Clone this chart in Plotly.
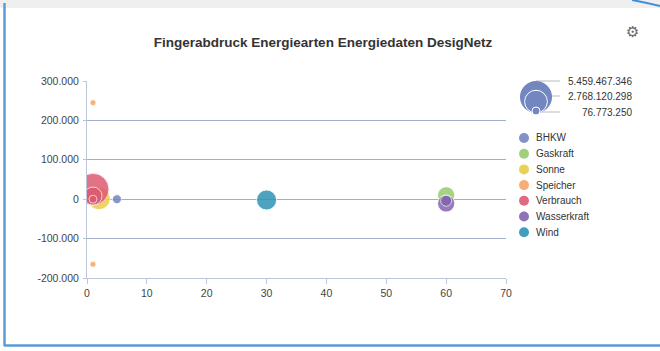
import plotly.graph_objects as go

W, H = 660, 351

# ---------------- data ----------------
CATEGORIES = ["BHKW", "Gaskraft", "Sonne", "Speicher", "Verbrauch", "Wasserkraft", "Wind"]
COLORS = ["#7286c0", "#98cb6c", "#e9cd45", "#f7a466", "#dd5a72", "#8364ae", "#2e93b6"]

BHKW_X = [5];            BHKW_Y = [0];               BHKW_Z = [0.43e9]
GAS_X = [60];            GAS_Y = [10000];            GAS_Z = [1.55e9]
SONNE_X = [2];           SONNE_Y = [2000];           SONNE_Z = [2.70e9]
SPEICHER_X = [1, 1];     SPEICHER_Y = [245000, -165000]; SPEICHER_Z = [0.0768e9, 0.0768e9]
VERB_X = [1, 1, 1];      VERB_Y = [25000, 8000, 0];  VERB_Z = [5.459467346e9, 1.73e9, 0.34e9]
WASSER_X = [60, 60];     WASSER_Y = [-11000, -4000]; WASSER_Z = [1.55e9, 0.65e9]
WIND_X = [30];           WIND_Y = [-2000];           WIND_Z = [2.13e9]

SERIES_X = [BHKW_X, GAS_X, SONNE_X, SPEICHER_X, VERB_X, WASSER_X, WIND_X]
SERIES_Y = [BHKW_Y, GAS_Y, SONNE_Y, SPEICHER_Y, VERB_Y, WASSER_Y, WIND_Y]
SERIES_Z = [BHKW_Z, GAS_Z, SONNE_Z, SPEICHER_Z, VERB_Z, WASSER_Z, WIND_Z]

Y_TICKS = [-200000, -100000, 0, 100000, 200000, 300000]
Y_TICK_LABELS = ["-200.000", "-100.000", "0", "100.000", "200.000", "300.000"]
X_TICKS = [0, 10, 20, 30, 40, 50, 60, 70]

SIZE_LEGEND_VALUES = [5459467346, 2768120298, 76773250]
SIZE_LEGEND_LABELS = ["5.459.467.346", "2.768.120.298", "76.773.250"]

TITLE = "Fingerabdruck Energiearten Energiedaten DesigNetz"

# ---------------- helpers ----------------
def px(x):
    return x / W

def py(y):
    return 1 - y / H

MAX_D = 32.0
SIZEREF = 2 * max(SIZE_LEGEND_VALUES) / (MAX_D ** 2)
FONT = "Liberation Sans, Arial, sans-serif"

fig = go.Figure()

for name, color, xs, ys, zs in zip(CATEGORIES, COLORS, SERIES_X, SERIES_Y, SERIES_Z):
    fig.add_trace(go.Scatter(
        x=xs, y=ys, mode="markers", name=name, showlegend=False,
        marker=dict(size=zs, sizemode="area", sizeref=SIZEREF, sizemin=3,
                    color=color, opacity=0.85,
                    line=dict(color="rgba(255,255,255,0.8)", width=1)),
        hovertemplate=name + ": %{x}, %{y}<extra></extra>",
    ))

# ---------------- size legend (own hidden axes in pixel units) ----------------
bottom_px = 113
cx_px = 536
diam = [(2 * v / SIZEREF) ** 0.5 for v in SIZE_LEGEND_VALUES]
centers = [bottom_px - max(d, 4) / 2 for d in diam]
fig.add_trace(go.Scatter(
    x=[cx_px] * len(diam), y=centers, mode="markers", xaxis="x2", yaxis="y2",
    showlegend=False, hoverinfo="skip",
    marker=dict(size=SIZE_LEGEND_VALUES, sizemode="area", sizeref=SIZEREF, sizemin=4,
                color="#7286c0", opacity=1,
                line=dict(color=["rgba(0,0,0,0)", "white", "white"], width=1)),
))
line_y = [81, 96, 112]
for ly, lab in zip(line_y, SIZE_LEGEND_LABELS):
    fig.add_shape(type="line", xref="paper", yref="paper",
                  x0=px(cx_px), x1=px(560), y0=py(ly), y1=py(ly),
                  line=dict(color="#bbbbbb", width=1), layer="below")
    fig.add_annotation(text=lab, xref="paper", yref="paper", x=px(634), y=py(ly),
                       xanchor="right", yanchor="middle", showarrow=False,
                       font=dict(family=FONT, size=10, color="#333333"))

# ---------------- series legend ----------------
LEG_X, LEG_Y0, LEG_DY = 524, 138, 15.7
for i, (name, color) in enumerate(zip(CATEGORIES, COLORS)):
    yy = LEG_Y0 + LEG_DY * i
    fig.add_shape(type="circle", xref="paper", yref="paper",
                  x0=px(LEG_X - 5), x1=px(LEG_X + 5), y0=py(yy + 5), y1=py(yy - 5),
                  fillcolor=color, opacity=0.9, line=dict(width=0))
    fig.add_annotation(text=name, xref="paper", yref="paper", x=px(LEG_X + 10), y=py(yy),
                       xanchor="left", yanchor="middle", showarrow=False,
                       font=dict(family=FONT, size=10, color="#333333"))

# ---------------- frame decoration ----------------
fig.add_shape(type="rect", xref="paper", yref="paper", x0=0, x1=1, y0=py(8), y1=1,
              fillcolor="#efefef", line=dict(width=0), layer="below")
fig.add_shape(type="line", xref="paper", yref="paper", x0=px(4.5), x1=px(4.5),
              y0=py(3), y1=py(346), line=dict(color="#5b9bd5", width=2.5))
fig.add_shape(type="line", xref="paper", yref="paper", x0=px(4), x1=1,
              y0=py(345.5), y1=py(345.5), line=dict(color="#5b9bd5", width=2.5))
fig.add_shape(type="path", xref="paper", yref="paper",
              path=f"M {px(632)} {py(0)} Q {px(648)} {py(3)} {px(660)} {py(6)}",
              line=dict(color="#3d8fd6", width=2))

# gear icon
fig.add_annotation(text="⚙", xref="paper", yref="paper", x=px(632), y=py(32),
                   xanchor="center", yanchor="middle", showarrow=False,
                   font=dict(family="DejaVu Sans", size=15, color="#666666"))

AX_COLOR = "#bcc5dc"
GRID_COLOR = "#a3afca"

fig.update_layout(
    width=W, height=H, autosize=False,
    margin=dict(l=0, r=0, t=0, b=0, pad=0),
    paper_bgcolor="white", plot_bgcolor="rgba(0,0,0,0)",
    font=dict(family=FONT, size=10, color="#333333"),
    title=dict(text="<b>" + TITLE + "</b>", x=px(323), y=py(42),
               xanchor="center", yanchor="middle", xref="paper", yref="paper",
               font=dict(family=FONT, size=13.5, color="#333333")),
    xaxis=dict(domain=[px(87), px(506)], range=[0, 70], tickvals=X_TICKS,
               showgrid=False, zeroline=False, showline=True, linecolor=AX_COLOR,
               ticks="outside", ticklen=5, tickcolor=AX_COLOR, automargin=False,
               tickfont=dict(size=10.5, color="#444444"), anchor="y"),
    yaxis=dict(domain=[py(278), py(81)], range=[-200000, 300000],
               tickvals=Y_TICKS, ticktext=Y_TICK_LABELS, automargin=False,
               showgrid=True, gridcolor=GRID_COLOR, gridwidth=1,
               zeroline=False, showline=True, linecolor=AX_COLOR,
               ticks="outside", ticklen=3, tickcolor=AX_COLOR, ticklabelstandoff=2,
               tickfont=dict(size=10.5, color="#444444"), anchor="x"),
    xaxis2=dict(domain=[0, 1], range=[0, W], visible=False, anchor="y2", fixedrange=True),
    yaxis2=dict(domain=[0, 1], range=[H, 0], visible=False, anchor="x2", fixedrange=True),
    showlegend=False,
)

fig.write_html(
    "out.html",
    config={"responsive": False, "displayModeBar": False},
    post_script="document.body.style.margin='0';document.body.style.overflow='hidden';",
)
